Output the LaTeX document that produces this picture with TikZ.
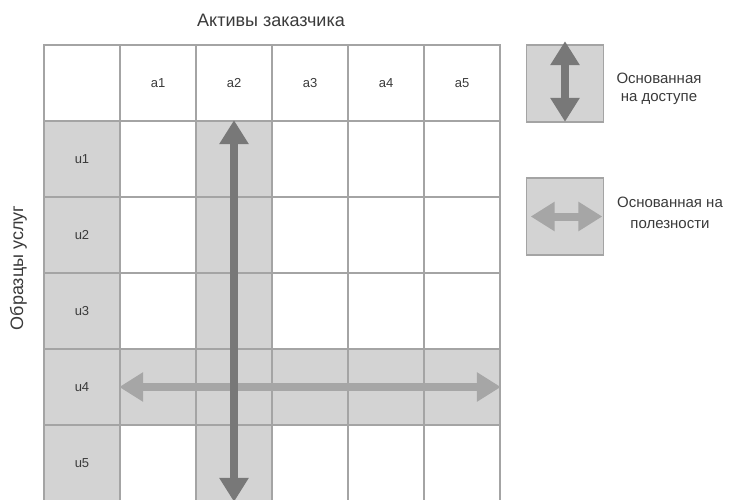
\documentclass[tikz,border=0pt]{standalone}
\usepackage{fontspec}
\setmainfont{Liberation Sans}
\usetikzlibrary{arrows.meta}
\definecolor{gridline}{HTML}{A4A4A4}
\definecolor{cellfill}{HTML}{D3D3D3}
\definecolor{darkarrow}{HTML}{787878}
\definecolor{lightarrow}{HTML}{A6A6A6}
\definecolor{labeltext}{HTML}{3A3A3A}
\tikzset{
  cell/.style={draw=gridline, line width=1.6pt, minimum width=76pt, minimum height=76pt,
    inner sep=0pt},
  shaded/.style={fill=cellfill},
  celllabel/.style={font=\fontsize{13}{15}\selectfont, text=labeltext},
  legendbox/.style={draw=gridline, line width=1.6pt, fill=cellfill, minimum width=77pt,
    minimum height=77pt, inner sep=0pt},
  legendtext/.style={anchor=base, inner sep=0pt, font=\fontsize{15}{17}\selectfont, text=labeltext},
  axistext/.style={anchor=base, inner sep=0pt, font=\fontsize{18}{20}\selectfont, text=labeltext},
  twoway/.style={line width=8pt, {Triangle[width=28pt,length=24pt]}-{Triangle[width=28pt,length=24pt]}},
}
\begin{document}
\begin{tikzpicture}[x=1pt, y=-1pt]
\useasboundingbox (0,0) rectangle (730,500);
% grid of cells: row 0 is the header, column 0 holds the row labels
\foreach \r in {0,...,5}{
  \foreach \c in {0,...,5}{
    \pgfmathtruncatemacro{\sh}{(\r>0 && (\c==0 || \c==2 || \r==4)) ? 1 : 0}
    \ifnum\sh=1
      \node[cell, shaded] (c-\r-\c) at (82+76*\c, 83+76*\r) {};
    \else
      \node[cell] (c-\r-\c) at (82+76*\c, 83+76*\r) {};
    \fi
  }
}
% header and row labels
\foreach \c in {1,...,5}{ \node[celllabel] (h-\c) at (c-0-\c) {a\c}; }
\foreach \r in {1,...,5}{ \node[celllabel] (v-\r) at (c-\r-0) {u\r}; }
% axis titles
\node[axistext] (colaxis) at (271,27) {Активы заказчика};
\node[axistext, rotate=90] (rowaxis) at (23,268) {Образцы услуг};
% usefulness arrow across row u4, access arrow down column a2
\draw[twoway, lightarrow] (c-4-1.west) -- (c-4-5.east);
\draw[twoway, darkarrow] (c-1-2.north) -- (c-5-2.south);
% legend
\node[legendbox] (legA) at (565,83.5) {};
\draw[twoway, darkarrow] ([yshift=3pt]legA.north) -- ([yshift=1pt]legA.south);
\node[legendtext] (legA1) at (659,84) {Основанная};
\node[legendtext] (legA2) at (659,102) {на доступе};
\node[legendbox] (legB) at (565,216.5) {};
\draw[twoway, lightarrow] ([xshift=5pt]legB.west) -- ([xshift=-2pt]legB.east);
\node[legendtext] (legB1) at (670,207) {Основанная на};
\node[legendtext] (legB2) at (670,228) {полезности};
\end{tikzpicture}
\end{document}
